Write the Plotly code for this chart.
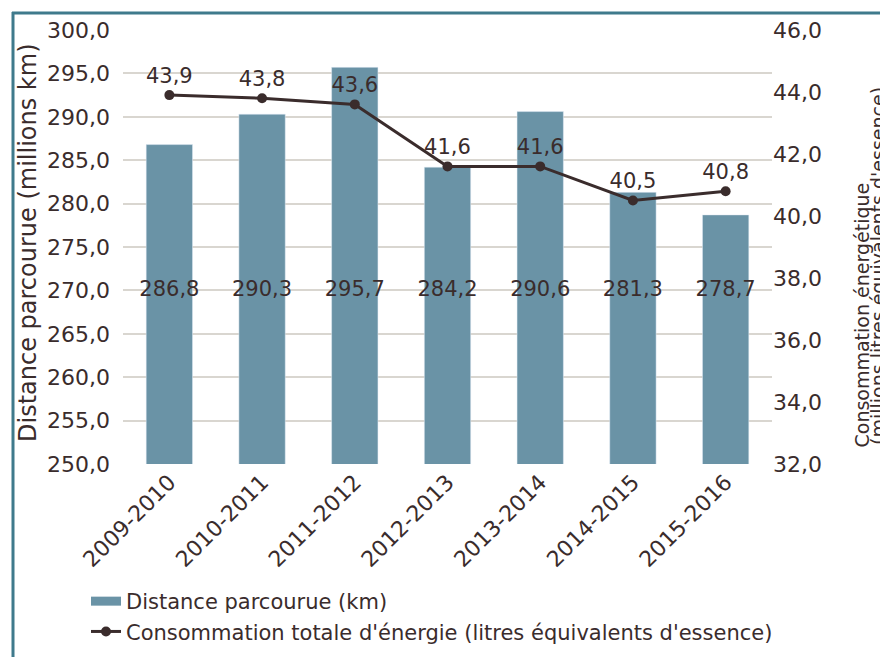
import plotly.graph_objects as go

categories = ["2009-2010", "2010-2011", "2011-2012", "2012-2013", "2013-2014", "2014-2015", "2015-2016"]
distance = [286.8, 290.3, 295.7, 284.2, 290.6, 281.3, 278.7]
consommation = [43.9, 43.8, 43.6, 41.6, 41.6, 40.5, 40.8]
left_ticks = [250, 255, 260, 265, 270, 275, 280, 285, 290, 295, 300]
right_ticks = [32, 34, 36, 38, 40, 42, 44, 46]
BAR_LABEL_Y = 270

TXT = "#3a2c2c"
BAR = "#6a93a6"
FRAME = "#3f7a8c"
FONT = "'DejaVu Sans', sans-serif"

def fmt(v):
    return f"{v:.1f}".replace(".", ",")

# page offset (browser body margin) compensation
OFF = 8
W, H = 888 - OFF, 657 - OFF
# plot area in page (reference) pixels
PX0, PX1, PY0, PY1 = 123, 772, 30, 464
L, R, T, B = PX0 - OFF, W - (PX1 - OFF), PY0 - OFF, H - (PY1 - OFF)
pw, ph = W - L - R, H - T - B

def px_x(x):
    return (x - OFF - L) / pw

def px_y(y):
    return (H - B - (y - OFF)) / ph

fig = go.Figure()
fig.add_trace(go.Bar(
    x=categories, y=distance, name="Distance parcourue (km)",
    marker=dict(color=BAR), width=0.5, yaxis="y", showlegend=False,
))
fig.add_trace(go.Scatter(
    x=[None], y=[None], mode="lines", name="Distance parcourue (km)",
    line=dict(color=BAR, width=9), hoverinfo="skip",
))
fig.add_trace(go.Scatter(
    x=categories, y=[BAR_LABEL_Y] * len(categories), mode="text",
    text=[fmt(v) for v in distance], textposition="middle center",
    textfont=dict(size=21, color=TXT, family=FONT), showlegend=False,
    hoverinfo="skip", yaxis="y",
))
fig.add_trace(go.Scatter(
    x=categories, y=consommation, name="Consommation totale d'énergie (litres équivalents d'essence)",
    mode="lines+markers+text", yaxis="y2",
    line=dict(color=TXT, width=3), marker=dict(color=TXT, size=10),
    text=[fmt(v) for v in consommation], textposition="top center",
    textfont=dict(size=21, color=TXT, family=FONT),
))

fig.update_layout(
    width=W, height=H,
    margin=dict(l=L, r=R, t=T, b=B, autoexpand=False),
    paper_bgcolor="white", plot_bgcolor="white",
    separators=", ",
    font=dict(family=FONT, color=TXT, size=21),
    xaxis=dict(tickangle=-45, tickfont=dict(size=22, color=TXT), showgrid=False,
               showline=False, ticks="", automargin=False),
    yaxis=dict(range=[250, 300], tickvals=left_ticks, tickformat=".1f",
               showgrid=True, gridcolor="#d9d6d0", gridwidth=1.5, zeroline=False,
               tickfont=dict(size=22, color=TXT), ticks="", automargin=False,
               ticklabelstandoff=12),
    yaxis2=dict(range=[32, 46], tickvals=right_ticks, tickformat=".1f",
                overlaying="y", side="right", showgrid=False, zeroline=False,
                tickfont=dict(size=22, color=TXT), automargin=False,
                ticklabelstandoff=0),
    legend=dict(x=px_x(86), y=px_y(581), xanchor="left", yanchor="top",
                font=dict(size=21, color=TXT), bgcolor="rgba(0,0,0,0)"),
    showlegend=True,
    annotations=[
        dict(text="Distance parcourue (millions km)", textangle=-90,
             xref="paper", yref="paper", x=px_x(28), y=px_y(243),
             xanchor="center", yanchor="middle", showarrow=False,
             font=dict(size=24, color=TXT)),
        dict(text="Consommation énergétique",
             textangle=-90, xref="paper", yref="paper", x=px_x(861), y=px_y(449),
             xanchor="center", yanchor="bottom", showarrow=False,
             font=dict(size=19, color=TXT)),
        dict(text="(millions litres équivalents d'essence)",
             textangle=-90, xref="paper", yref="paper", x=px_x(878), y=px_y(447),
             xanchor="center", yanchor="bottom", showarrow=False,
             font=dict(size=19, color=TXT)),
    ],
    shapes=[
        dict(type="line", xref="paper", yref="paper", x0=px_x(13), x1=px_x(13),
             y0=px_y(12), y1=px_y(660), line=dict(color=FRAME, width=3)),
        dict(type="line", xref="paper", yref="paper", x0=px_x(12), x1=px_x(890),
             y0=px_y(13), y1=px_y(13), line=dict(color=FRAME, width=3)),
    ],
)

fig.write_html("out.html")
